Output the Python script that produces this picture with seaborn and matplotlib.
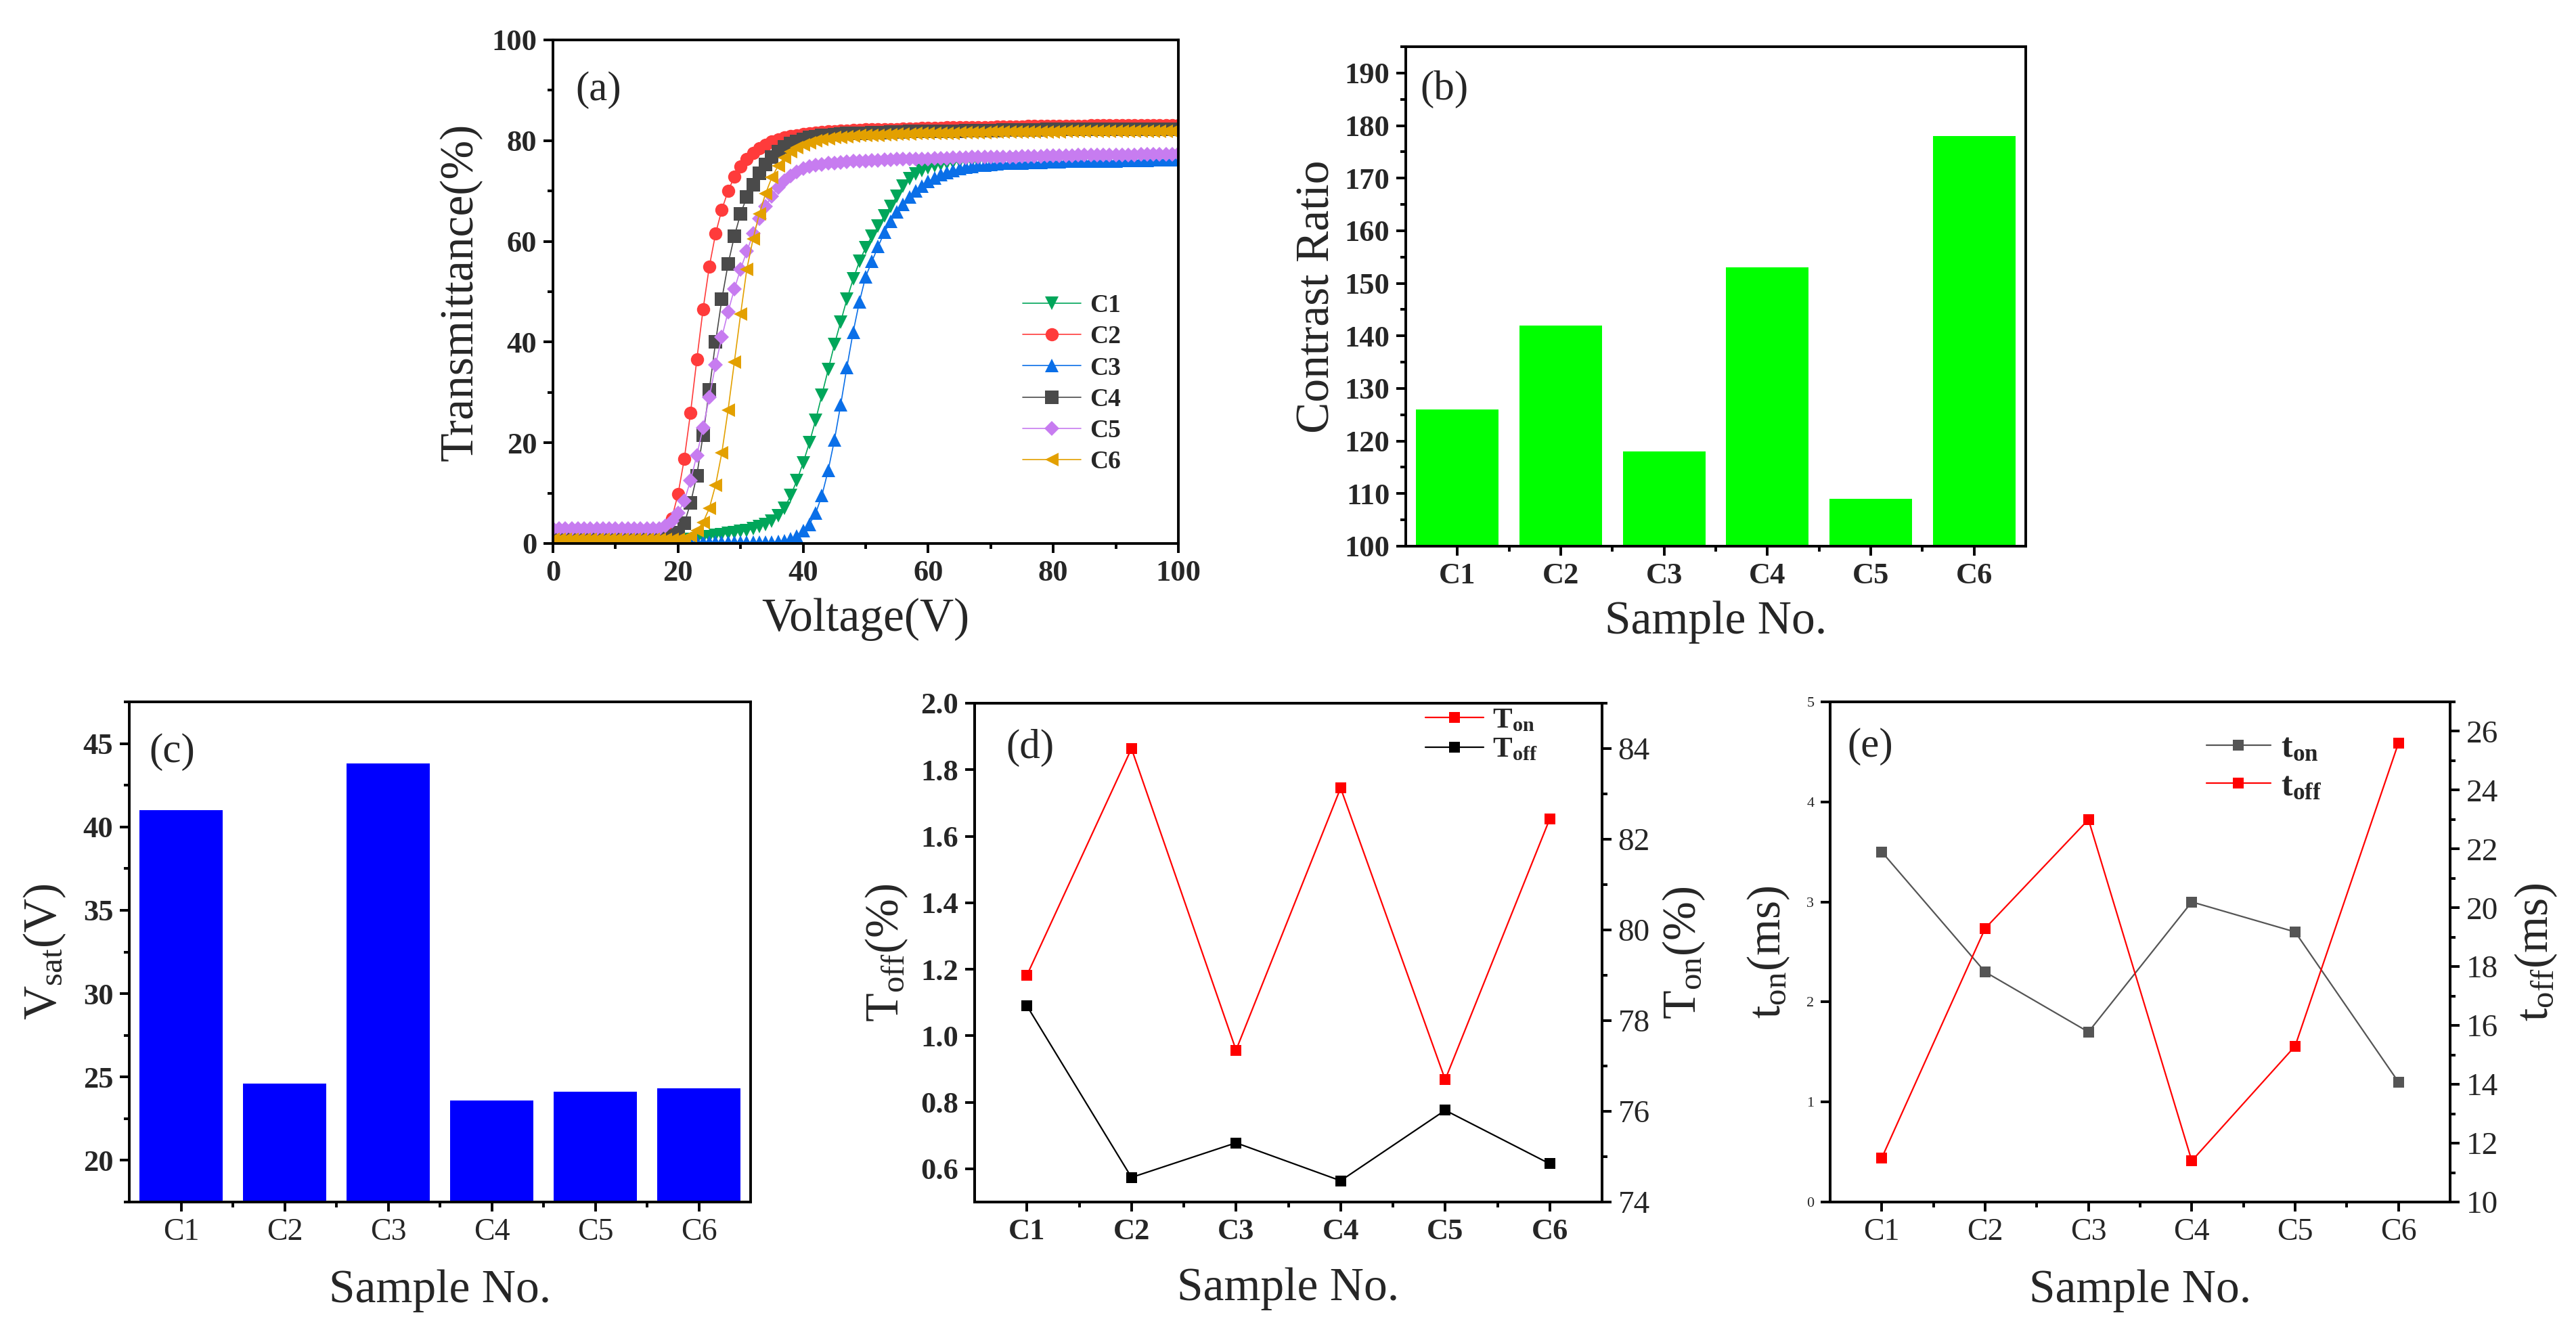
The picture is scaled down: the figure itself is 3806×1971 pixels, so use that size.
import numpy as np
import pandas as pd
import seaborn as sns
import matplotlib.pyplot as plt
from matplotlib.ticker import MultipleLocator, FixedLocator

sns.set_style('ticks')
plt.rcParams['font.family'] = ['Liberation Serif', 'DejaVu Serif']
plt.rcParams['mathtext.fontset'] = 'custom'
plt.rcParams['mathtext.rm'] = 'Liberation Serif'
plt.rcParams['mathtext.it'] = 'Liberation Serif:italic'
plt.rcParams['mathtext.bf'] = 'Liberation Serif:bold'

# ---- data ----
voltage = np.arange(0, 101, 1)

t_c1 = [0.8] * 10 + [0.8] * 10 + [
    0.8, 0.8, 0.8, 1.0, 1.2, 1.4, 1.6, 1.8, 2.0, 2.2,
    2.4, 2.6, 2.9, 3.3, 3.8, 4.5, 5.5, 7.0, 9.5, 12.5,
    16.0, 20.0, 24.5, 29.5, 34.5, 39.5, 44.0, 48.5, 52.5, 56.0,
    58.8, 61.0, 63.0, 65.1, 67.0, 69.0, 71.0, 72.4, 73.4, 74.1,
    74.6, 75.0, 75.3, 75.5, 75.7, 75.8, 75.9, 76.0, 76.0, 76.1,
    76.1, 76.2, 76.2, 76.2, 76.3, 76.3, 76.3, 76.3, 76.4, 76.4,
    76.4, 76.4, 76.4, 76.5, 76.5, 76.5, 76.5, 76.5, 76.5, 76.6,
    76.6, 76.6, 76.6, 76.6, 76.6, 76.6, 76.6, 76.6, 76.6, 76.6,
    76.6]
t_c2 = [1.5] * 10 + [
    1.5, 1.5, 1.5, 1.5, 1.5, 1.5, 1.5, 1.5, 2.5, 5.0,
    9.8, 16.8, 26.0, 36.5, 46.5, 55.0, 61.5, 66.3, 70.0, 72.8,
    74.8, 76.4, 77.6, 78.5, 79.2, 79.8, 80.2, 80.6, 80.9, 81.1,
    81.3, 81.5, 81.6, 81.7, 81.8, 81.9, 82.0, 82.0, 82.1, 82.1,
    82.2, 82.2, 82.2, 82.3, 82.3, 82.3, 82.4, 82.4, 82.4, 82.5,
    82.5, 82.5, 82.5, 82.6, 82.6, 82.6, 82.6, 82.7, 82.7, 82.7,
    82.7, 82.8, 82.8, 82.8, 82.8, 82.8, 82.9, 82.9, 82.9, 82.9,
    82.9, 82.9, 82.9, 82.9, 82.9, 82.9, 83.0, 83.0, 83.0, 83.0,
    83.0, 83.0, 83.0, 83.0, 83.0, 83.0, 83.0, 83.1, 83.1, 83.1,
    83.1]
t_c3 = [0.3] * 30 + [
    0.3, 0.3, 0.3, 0.3, 0.3, 0.3, 0.4, 0.6, 1.0, 1.5,
    2.5, 3.8, 6.0, 9.5, 14.5, 20.5, 27.5, 35.0, 42.0, 48.0,
    53.0, 56.0, 59.0, 61.8, 64.0, 65.8, 67.4, 68.8, 70.0, 71.0,
    71.9, 72.6, 73.2, 73.7, 74.1, 74.4, 74.7, 74.9, 75.1, 75.2,
    75.3, 75.4, 75.5, 75.5, 75.6, 75.6, 75.7, 75.7, 75.7, 75.8,
    75.8, 75.8, 75.9, 75.9, 75.9, 75.9, 76.0, 76.0, 76.0, 76.0,
    76.0, 76.1, 76.1, 76.1, 76.1, 76.1, 76.2, 76.2, 76.2, 76.2,
    76.2]
t_c4 = [1.0] * 10 + [
    1.0, 1.0, 1.0, 1.0, 1.0, 1.0, 1.0, 1.0, 1.2, 1.5,
    2.2, 4.0, 8.0, 13.5, 21.5, 30.5, 40.0, 48.5, 55.5, 61.0,
    65.5, 68.8, 71.3, 73.5, 75.3, 76.7, 77.8, 78.7, 79.4, 79.9,
    80.3, 80.6, 80.8, 81.0, 81.1, 81.2, 81.3, 81.4, 81.4, 81.5,
    81.5, 81.6, 81.6, 81.6, 81.7, 81.7, 81.7, 81.8, 81.8, 81.8,
    81.8, 81.9, 81.9, 81.9, 81.9, 81.9, 82.0, 82.0, 82.0, 82.0,
    82.0, 82.0, 82.1, 82.1, 82.1, 82.1, 82.1, 82.1, 82.1, 82.2,
    82.2, 82.2, 82.2, 82.2, 82.2, 82.2, 82.2, 82.2, 82.2, 82.2,
    82.2, 82.2, 82.3, 82.3, 82.3, 82.3, 82.3, 82.3, 82.3, 82.3,
    82.3]
t_c5 = [3.0] * 10 + [
    3.0, 3.0, 3.0, 3.0, 3.0, 3.0, 3.0, 3.0, 3.5, 4.5,
    6.0, 8.5, 12.5, 17.5, 23.0, 29.0, 35.5, 41.0, 46.0, 50.5,
    54.5, 58.0, 61.5, 64.5, 67.0, 69.0, 70.7, 72.0, 73.0, 73.8,
    74.4, 74.8, 75.1, 75.3, 75.5, 75.6, 75.7, 75.8, 75.9, 76.0,
    76.0, 76.1, 76.1, 76.2, 76.2, 76.3, 76.3, 76.3, 76.4, 76.4,
    76.4, 76.5, 76.5, 76.5, 76.6, 76.6, 76.6, 76.7, 76.7, 76.7,
    76.7, 76.8, 76.8, 76.8, 76.8, 76.9, 76.9, 76.9, 76.9, 77.0,
    77.0, 77.0, 77.0, 77.0, 77.1, 77.1, 77.1, 77.1, 77.1, 77.2,
    77.2, 77.2, 77.2, 77.2, 77.3, 77.3, 77.3, 77.3, 77.3, 77.3,
    77.4]
t_c6 = [0.8] * 20 + [
    0.8, 1.0, 1.5, 2.5, 4.2, 7.0, 11.6, 18.0, 26.5, 36.0,
    45.5, 54.5, 60.5, 65.5, 69.5, 72.7, 75.0, 76.6, 77.8, 78.6,
    79.2, 79.6, 80.0, 80.2, 80.4, 80.6, 80.7, 80.8, 80.9, 81.0,
    81.0, 81.1, 81.1, 81.2, 81.2, 81.3, 81.3, 81.3, 81.4, 81.4,
    81.4, 81.5, 81.5, 81.5, 81.5, 81.6, 81.6, 81.6, 81.6, 81.6,
    81.7, 81.7, 81.7, 81.7, 81.7, 81.7, 81.7, 81.7, 81.7, 81.7,
    81.7, 81.7, 81.8, 81.8, 81.8, 81.8, 81.8, 81.8, 81.8, 81.8,
    81.9, 81.9, 81.9, 81.9, 81.9, 81.9, 81.9, 81.9, 81.9, 81.9,
    81.9]

samples = ['C1', 'C2', 'C3', 'C4', 'C5', 'C6']
contrast_ratio = [126, 142, 118, 153, 109, 178]
v_sat = [41.0, 24.6, 43.8, 23.6, 24.1, 24.3]
T_on = [79.0, 84.0, 77.35, 83.13, 76.7, 82.45]
T_off = [1.09, 0.574, 0.678, 0.564, 0.776, 0.615]
t_on = [3.5, 2.3, 1.7, 3.0, 2.7, 1.2]
t_off = [11.5, 19.3, 23.0, 11.4, 15.3, 25.6]

# ---- figure ----
W, H = 3806, 1971
fig = plt.figure(figsize=(W / 200, H / 200), dpi=200)


def box(x0, y0, x1, y1):
    return [x0 / W, 1 - y1 / H, (x1 - x0) / W, (y1 - y0) / H]


def style(ax, right=False):
    for s in ax.spines.values():
        s.set_linewidth(1.4)
        s.set_color('black')
    ax.tick_params(which='both', direction='out', width=1.4, color='black',
                   top=False, right=right, left=not right, bottom=True,
                   labelright=right, labelleft=not right)
    ax.tick_params(which='major', length=5)
    ax.tick_params(which='minor', length=3)


LAB = 25
TICK = 16

# (a) transmittance curves
ax = fig.add_axes(box(817, 59, 1741, 803))
curves = [('C1', t_c1, '#00a65a', 'v'), ('C2', t_c2, '#ff3b3b', 'o'),
          ('C3', t_c3, '#0a6fe8', '^'), ('C4', t_c4, '#4a4a4a', 's'),
          ('C5', t_c5, '#c77cf0', 'D'), ('C6', t_c6, '#e3a000', '<')]
for name, vals, col, mk in curves:
    ms = 5.5 if mk == 'D' else 7
    sns.lineplot(x=voltage, y=vals, ax=ax, color=col, marker=mk, markersize=ms,
                 markeredgewidth=0, linewidth=0.6, label=name)
style(ax)
ax.set_xlim(0, 100)
ax.set_ylim(0, 100)
ax.set_xticks(range(0, 101, 20), [str(v) for v in range(0, 101, 20)], fontweight='bold', fontsize=TICK)
ax.set_yticks(range(0, 101, 20), [str(v) for v in range(0, 101, 20)], fontweight='bold', fontsize=TICK)
ax.xaxis.set_minor_locator(MultipleLocator(10))
ax.yaxis.set_minor_locator(MultipleLocator(10))
ax.set_xlabel('Voltage(V)', fontsize=LAB, labelpad=6)
ax.set_ylabel('Transmittance(%)', fontsize=LAB, labelpad=5)
ax.legend(loc='center left', bbox_to_anchor=(0.735, 0.317), frameon=False,
          prop={'weight': 'bold', 'size': 13.5}, handlelength=2.3,
          handletextpad=0.35, labelspacing=0.3, borderaxespad=0)
ax.text(0.036, 0.90, '(a)', transform=ax.transAxes, fontsize=22, va='center')

# (b) contrast ratio
ax = fig.add_axes(box(2077, 69, 2993, 807))
sns.barplot(x=samples, y=contrast_ratio, ax=ax, color='#00ff00', saturation=1,
            width=0.8, edgecolor='none')
style(ax)
ax.set_xlim(-0.5, 5.5)
ax.set_ylim(100, 195)
ax.set_xticks(range(6), samples, fontweight='bold', fontsize=TICK)
ax.set_yticks(range(100, 191, 10), [str(v) for v in range(100, 191, 10)], fontweight='bold', fontsize=TICK)
ax.xaxis.set_minor_locator(FixedLocator([0.5, 1.5, 2.5, 3.5, 4.5]))
ax.yaxis.set_minor_locator(MultipleLocator(5))
ax.set_xlabel('Sample No.', fontsize=LAB, labelpad=6)
ax.set_ylabel('Contrast Ratio', fontsize=LAB, labelpad=3)
ax.text(0.023, 0.915, '(b)', transform=ax.transAxes, fontsize=22, va='center')

# (c) saturation voltage
ax = fig.add_axes(box(191, 1037, 1109, 1776))
sns.barplot(x=samples, y=v_sat, ax=ax, color='#0000ff', saturation=1,
            width=0.8, edgecolor='none')
style(ax)
ax.set_xlim(-0.5, 5.5)
ax.set_ylim(17.5, 47.5)
ax.set_xticks(range(6), samples, fontsize=TICK + 0.5)
ax.set_yticks(range(20, 46, 5), [str(v) for v in range(20, 46, 5)], fontweight='bold', fontsize=TICK)
ax.xaxis.set_minor_locator(FixedLocator([0.5, 1.5, 2.5, 3.5, 4.5]))
ax.yaxis.set_minor_locator(MultipleLocator(2.5))
ax.set_xlabel('Sample No.', fontsize=LAB, labelpad=12)
ax.set_ylabel(r'V$_{\rm sat}$(V)', fontsize=LAB, labelpad=8)
ax.text(0.032, 0.90, '(c)', transform=ax.transAxes, fontsize=22, va='center')

# (d) T_off / T_on
ax = fig.add_axes(box(1440, 1039, 2367, 1776))
sns.lineplot(x=samples, y=T_off, ax=ax, color='black', marker='s', markersize=6,
             markeredgewidth=0, linewidth=0.8, label=r'$\mathbf{T_{off}}$')
ax2 = ax.twinx()
sns.lineplot(x=samples, y=T_on, ax=ax2, color='#ff0000', marker='s', markersize=6,
             markeredgewidth=0, linewidth=0.8, label=r'$\mathbf{T_{on}}$')
style(ax)
style(ax2, right=True)
ax.set_xlim(-0.5, 5.5)
ax.set_ylim(0.5, 2.0)
ax2.set_ylim(74, 85)
ax.set_xticks(range(6), samples, fontweight='bold', fontsize=TICK)
ax.xaxis.set_minor_locator(FixedLocator([0.5, 1.5, 2.5, 3.5, 4.5]))
yt = [0.6, 0.8, 1.0, 1.2, 1.4, 1.6, 1.8, 2.0]
ax.set_yticks(yt, ['%.1f' % v for v in yt], fontweight='bold', fontsize=TICK)
ax2.set_yticks(range(74, 85, 2), [str(v) for v in range(74, 85, 2)], fontsize=TICK + 1)
ax2.yaxis.set_minor_locator(MultipleLocator(1))
ax.set_xlabel('Sample No.', fontsize=LAB, labelpad=12)
ax.set_ylabel(r'T$_{\rm off}$(%)', fontsize=LAB, labelpad=6)
ax2.set_ylabel(r'T$_{\rm on}$(%)', fontsize=LAB, labelpad=6)
h1, l1 = ax.get_legend_handles_labels()
h2, l2 = ax2.get_legend_handles_labels()
ax.get_legend().remove()
ax2.legend(h2 + h1, l2 + l1, loc='upper left', bbox_to_anchor=(0.70, 1.015),
           frameon=False, fontsize=15.5, handlelength=2.0, handletextpad=0.3,
           labelspacing=0.1, borderaxespad=0)
ax.text(0.05, 0.91, '(d)', transform=ax.transAxes, fontsize=22, va='center')

# (e) response times
ax = fig.add_axes(box(2704, 1037, 3620, 1776))
sns.lineplot(x=samples, y=t_on, ax=ax, color='#555555', marker='s', markersize=6,
             markeredgewidth=0, linewidth=0.8, label=r'$\mathbf{t_{on}}$')
ax2 = ax.twinx()
sns.lineplot(x=samples, y=t_off, ax=ax2, color='#ff0000', marker='s', markersize=6,
             markeredgewidth=0, linewidth=0.8, label=r'$\mathbf{t_{off}}$')
style(ax)
style(ax2, right=True)
ax.set_xlim(-0.5, 5.5)
ax.set_ylim(0, 5)
ax2.set_ylim(10, 27)
ax.set_xticks(range(6), samples, fontsize=TICK + 0.5)
ax.xaxis.set_minor_locator(FixedLocator([0.5, 1.5, 2.5, 3.5, 4.5]))
ax.set_yticks(range(0, 6), [str(v) for v in range(0, 6)], fontsize=8)
ax2.set_yticks(range(10, 27, 2), [str(v) for v in range(10, 27, 2)], fontsize=TICK + 1)
ax2.yaxis.set_minor_locator(MultipleLocator(1))
ax.set_xlabel('Sample No.', fontsize=LAB, labelpad=12)
ax.set_ylabel(r't$_{\rm on}$(ms)', fontsize=LAB, labelpad=8)
ax2.set_ylabel(r't$_{\rm off}$(ms)', fontsize=LAB, labelpad=8)
h1, l1 = ax.get_legend_handles_labels()
h2, l2 = ax2.get_legend_handles_labels()
ax.get_legend().remove()
ax2.legend(h1 + h2, l1 + l2, loc='upper left', bbox_to_anchor=(0.585, 0.965),
           frameon=False, fontsize=18, handlelength=1.9, handletextpad=0.3,
           labelspacing=0.2, borderaxespad=0)
ax.text(0.028, 0.91, '(e)', transform=ax.transAxes, fontsize=22, va='center')

fig.savefig('out.png', dpi=200)
